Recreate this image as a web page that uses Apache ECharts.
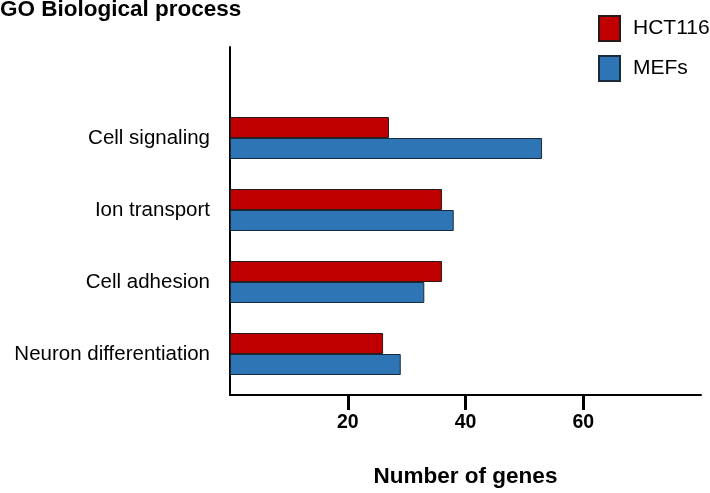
<!DOCTYPE html>
<html>
<head>
<meta charset="utf-8">
<script src="https://cdn.jsdelivr.net/npm/echarts@6/dist/echarts.min.js"></script>
<style>html,body{margin:0;padding:0;background:#fff}#c{width:710px;height:493px}</style>
</head>
<body>
<div id="c"></div>
<script>
const categories = ['Cell signaling', 'Ion transport', 'Cell adhesion', 'Neuron differentiation'];
const hct116 = [27, 36, 36, 26];
const mefs = [53, 38, 33, 29];
const xTicks = [20, 40, 60];
const seriesNames = ['HCT116', 'MEFs'];

const FONT = 'Liberation Sans, Arial, sans-serif';
const chart = echarts.init(document.getElementById('c'), null, {renderer: 'canvas'});
const option = {
  animation: false,
  backgroundColor: '#fff',
  textStyle: {fontFamily: FONT, color: '#000'},
  title: {
    text: 'GO Biological process', left: 0, top: -2, padding: 0,
    textStyle: {fontFamily: FONT, fontSize: 22.5, fontWeight: 'bold', color: '#000'}
  },
  legend: {
    data: seriesNames, orient: 'vertical', left: 598, top: 15, padding: 0,
    itemWidth: 21, itemHeight: 25, itemGap: 13, icon: 'rect',
    textStyle: {fontFamily: FONT, fontSize: 21, color: '#000', padding: [0, 0, 0, 8]}
  },
  grid: [
    {left: 230, right: 9, top: 47, bottom: 95},
    {left: 230, right: 9, top: 102, bottom: 103}
  ],
  xAxis: [
    {
      gridIndex: 0, type: 'value', min: 0, max: 80, interval: 20,
      axisLine: {show: true, onZero: false, lineStyle: {color: '#000', width: 2}},
      axisTick: {show: true, customValues: xTicks, length: 15, lineStyle: {color: '#000', width: 3}},
      axisLabel: {customValues: xTicks, fontFamily: FONT, fontSize: 19.5, fontWeight: 'bold', color: '#000', margin: 18},
      splitLine: {show: false},
      name: 'Number of genes', nameLocation: 'middle', nameGap: 70,
      nameTextStyle: {fontFamily: FONT, fontSize: 22.5, fontWeight: 'bold', color: '#000'}
    },
    {gridIndex: 1, type: 'value', min: 0, max: 80, show: false}
  ],
  yAxis: [
    {
      gridIndex: 0, type: 'value', min: 0, max: 1,
      axisLine: {show: true, onZero: false, lineStyle: {color: '#000', width: 2}},
      axisTick: {show: false}, axisLabel: {show: false}, splitLine: {show: false}
    },
    {
      gridIndex: 1, type: 'category', data: categories, inverse: true,
      axisLine: {show: false}, axisTick: {show: false},
      axisLabel: {fontFamily: FONT, fontSize: 20.5, color: '#000', margin: 20}
    }
  ],
  series: [
    {
      name: seriesNames[0], type: 'bar', xAxisIndex: 1, yAxisIndex: 1, data: hct116,
      barWidth: 21, barGap: '0%',
      itemStyle: {color: '#C00000', borderColor: '#2a1a1a', borderWidth: 1}
    },
    {
      name: seriesNames[1], type: 'bar', xAxisIndex: 1, yAxisIndex: 1, data: mefs,
      barWidth: 21, barGap: '0%',
      itemStyle: {color: '#2E75B6', borderColor: '#1a2a3a', borderWidth: 1}
    }
  ]
};
chart.setOption(option);
</script>
</body>
</html>
